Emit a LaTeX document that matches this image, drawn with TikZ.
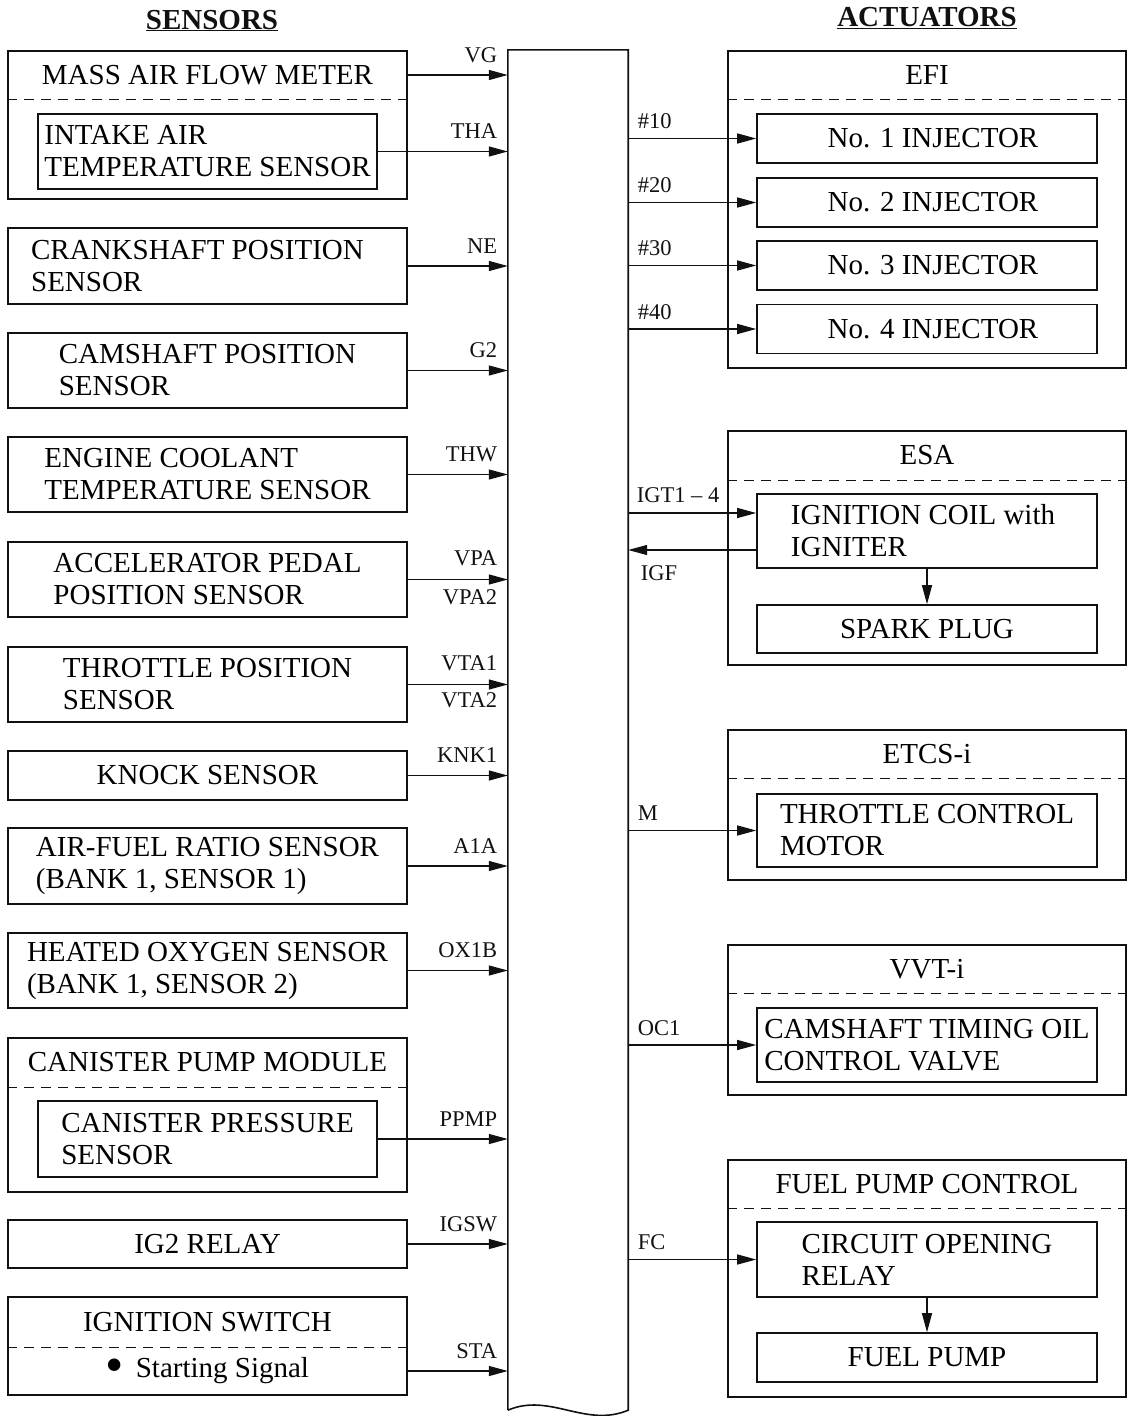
\documentclass[tikz,border=0pt]{standalone}
\usepackage{fontspec}
\setmainfont{Liberation Serif}
\usetikzlibrary{arrows.meta}

\begin{document}
\begin{tikzpicture}[
    x=1pt, y=-1pt,
    font=\fontsize{29}{32}\selectfont,
    frame/.style={draw=ink, line width=1.6pt},
    box/.style={frame, align=left, inner sep=0pt},
    band/.style={inner sep=0pt},
    sep/.style={draw=ink, line width=1.2pt, dash pattern=on 10pt off 7pt},
    sig/.style={draw=ink, line width=1.3pt, -{Triangle[length=19pt,width=10pt]}},
    pin/.style={font=\fontsize{22.5}{26}\selectfont, text=ink, inner sep=0pt},
    head/.style={font=\fontsize{29}{32}\selectfont\bfseries, text=ink, inner sep=0pt},
    lbox/.style={box, minimum width=399pt},
    libox/.style={box, minimum width=339pt},
    rbox/.style={box, minimum width=398pt},
    ribox/.style={box, minimum width=340pt}
]
\definecolor{ink}{HTML}{111111}

\def\xl{207.5}
\def\xr{927}

\useasboundingbox (0,0) rectangle (1128,1416);

% Headings.
\node[head, anchor=base] (hsens) at (212,29) {\underline{SENSORS}};
\node[head, anchor=base] (hact) at (927,27) {\underline{ACTUATORS}};

% ECM bar, y range 50--1410.
\node[minimum width=120pt, minimum height=1360pt, inner sep=0pt] (ecm) at (568,730) {};
\draw[frame] (ecm.south west) -- (ecm.north west) -- (ecm.north east) -- (ecm.south east)
  .. controls ([xshift=-43pt,yshift=-18pt]ecm.south east)
  and ([xshift=42pt,yshift=18pt]ecm.south west) .. (ecm.south west);

% Sensors, left column.
\node[lbox, minimum height=148pt] (maf) at (\xl,125) {};
\node[band, minimum width=399pt, minimum height=48pt] (maft) at (\xl,75) {MASS AIR FLOW METER};
\draw[sep] (maf.west |- maft.south) -- (maf.east |- maft.south);
\node[libox, minimum height=75pt] (iat) at (\xl,151.5) {INTAKE AIR\\TEMPERATURE SENSOR};

\node[lbox, minimum height=76pt] (ckp) at (\xl,266) {CRANKSHAFT POSITION\hspace*{20pt}\\SENSOR};
\node[lbox, minimum height=75pt] (cmp) at (\xl,370.5) {CAMSHAFT POSITION\\SENSOR};
\node[lbox, minimum height=75pt] (ect) at (\xl,474.5) {ENGINE COOLANT\\TEMPERATURE SENSOR};
\node[lbox, minimum height=75pt] (app) at (\xl,579.5) {ACCELERATOR PEDAL\\POSITION SENSOR};
\node[lbox, minimum height=75pt] (tps) at (\xl,684.5) {THROTTLE POSITION\\SENSOR};
\node[lbox, minimum height=49pt] (ks) at (\xl,775.5) {KNOCK SENSOR};
\node[lbox, minimum height=76pt] (afs) at (\xl,866) {AIR-FUEL RATIO SENSOR\\(BANK 1, SENSOR 1)};
\node[lbox, minimum height=75pt] (hos) at (\xl,970.5) {HEATED OXYGEN SENSOR\\(BANK 1, SENSOR 2)};

\node[lbox, minimum height=154pt] (cpm) at (\xl,1115) {};
\node[band, minimum width=399pt, minimum height=49pt] (cpmt) at (\xl,1062.5) {CANISTER PUMP MODULE};
\draw[sep] (cpm.west |- cpmt.south) -- (cpm.east |- cpmt.south);
\node[libox, minimum height=76pt] (cps) at (\xl,1139) {CANISTER PRESSURE\\SENSOR};

\node[lbox, minimum height=48pt] (ig2) at (\xl,1244) {IG2 RELAY};

\node[lbox, minimum height=98pt] (igs) at (\xl,1346) {};
\node[band, minimum width=399pt, minimum height=50pt] (igst) at (\xl,1322) {IGNITION SWITCH};
\draw[sep] (igs.west |- igst.south) -- (igs.east |- igst.south);
\node[band, minimum width=399pt, minimum height=48pt] (igss) at (\xl,1371)
  {\raisebox{-4.5pt}{\scalebox{1.8}{\textbullet}}\hspace{0.4em}Starting Signal};

\foreach \src/\lab in {maft/VG, iat/THA, ckp/NE, cmp/G2, ect/THW, ks/KNK1,
    afs/A1A, hos/OX1B, cps/PPMP, ig2/IGSW, igss/STA} {
  \draw[sig] (\src.east) -- (\src.east -| ecm.west)
    node[pin, anchor=base east, xshift=-10pt, yshift=13pt] (l\src) {\lab};
}
\draw[sig] (app.east) -- (app.east -| ecm.west)
  node[pin, anchor=base east, xshift=-10pt, yshift=14pt] (lvpa) {VPA}
  node[pin, anchor=base east, xshift=-10pt, yshift=-25pt] (lvpatwo) {VPA2};
\draw[sig] (tps.east) -- (tps.east -| ecm.west)
  node[pin, anchor=base east, xshift=-10pt, yshift=14pt] (lvta) {VTA1}
  node[pin, anchor=base east, xshift=-10pt, yshift=-23pt] (lvtatwo) {VTA2};

% Actuators, right column.
\node[rbox, minimum height=317pt] (efi) at (\xr,209.5) {};
\node[band, minimum width=398pt, minimum height=48pt] (efit) at (\xr,75) {EFI};
\draw[sep] (efi.west |- efit.south) -- (efi.east |- efit.south);
\foreach \n/\y in {1/138.5, 2/202.5, 3/265.5, 4/329} {
  \node[ribox, minimum height=49pt, align=center] (inj\n) at (\xr,\y)
    {\hspace*{12pt}No. \n\ INJECTOR};
}

\node[rbox, minimum height=234pt] (esa) at (\xr,548) {};
\node[band, minimum width=398pt, minimum height=49pt] (esat) at (\xr,455.5) {ESA};
\draw[sep] (esa.west |- esat.south) -- (esa.east |- esat.south);
\node[ribox, minimum height=74pt] (coil) at (\xr,531) {IGNITION COIL with\hspace*{8pt}\\IGNITER};
\node[ribox, minimum height=48pt, align=center] (spark) at (\xr,629) {SPARK PLUG};

\node[rbox, minimum height=150pt] (etcs) at (\xr,805) {};
\node[band, minimum width=398pt, minimum height=48pt] (etcst) at (\xr,754) {ETCS-i};
\draw[sep] (etcs.west |- etcst.south) -- (etcs.east |- etcst.south);
\node[ribox, minimum height=73pt] (motor) at (\xr,830.5) {THROTTLE CONTROL\\MOTOR};

\node[rbox, minimum height=150pt] (vvt) at (\xr,1020) {};
\node[band, minimum width=398pt, minimum height=48pt] (vvtt) at (\xr,969) {VVT-i};
\draw[sep] (vvt.west |- vvtt.south) -- (vvt.east |- vvtt.south);
\node[ribox, minimum height=74pt] (ocv) at (\xr,1045) {CAMSHAFT TIMING OIL\\CONTROL VALVE};

\node[rbox, minimum height=237pt] (fpc) at (\xr,1278.5) {};
\node[band, minimum width=398pt, minimum height=48pt] (fpct) at (\xr,1184) {FUEL PUMP CONTROL};
\draw[sep] (fpc.west |- fpct.south) -- (fpc.east |- fpct.south);
\node[ribox, minimum height=75pt] (cor) at (\xr,1259.5) {CIRCUIT OPENING\\RELAY};
\node[ribox, minimum height=49pt, align=center] (pump) at (\xr,1357.5) {FUEL PUMP};

\foreach \dst/\lab in {inj1/\#10, inj2/\#20, inj3/\#30, inj4/\#40,
    motor/M, ocv/OC1, cor/FC} {
  \draw[sig] (\dst.west -| ecm.east)
    node[pin, anchor=base west, xshift=9pt, yshift=10pt] (l\dst) {\lab} -- (\dst.west);
}
\coordinate (igt) at ([yshift=18pt]coil.west);
\coordinate (igf) at ([yshift=-19pt]coil.west);
\draw[sig] (igt -| ecm.east)
  node[pin, anchor=base west, xshift=8pt, yshift=11pt] (ligt) {IGT1 -- 4} -- (igt);
\draw[sig] (igf) -- (igf -| ecm.east)
  node[pin, anchor=base west, xshift=12pt, yshift=-30pt] (ligf) {IGF};
\draw[sig] (coil.south) -- (spark.north);
\draw[sig] (cor.south) -- (pump.north);
\end{tikzpicture}
\end{document}
